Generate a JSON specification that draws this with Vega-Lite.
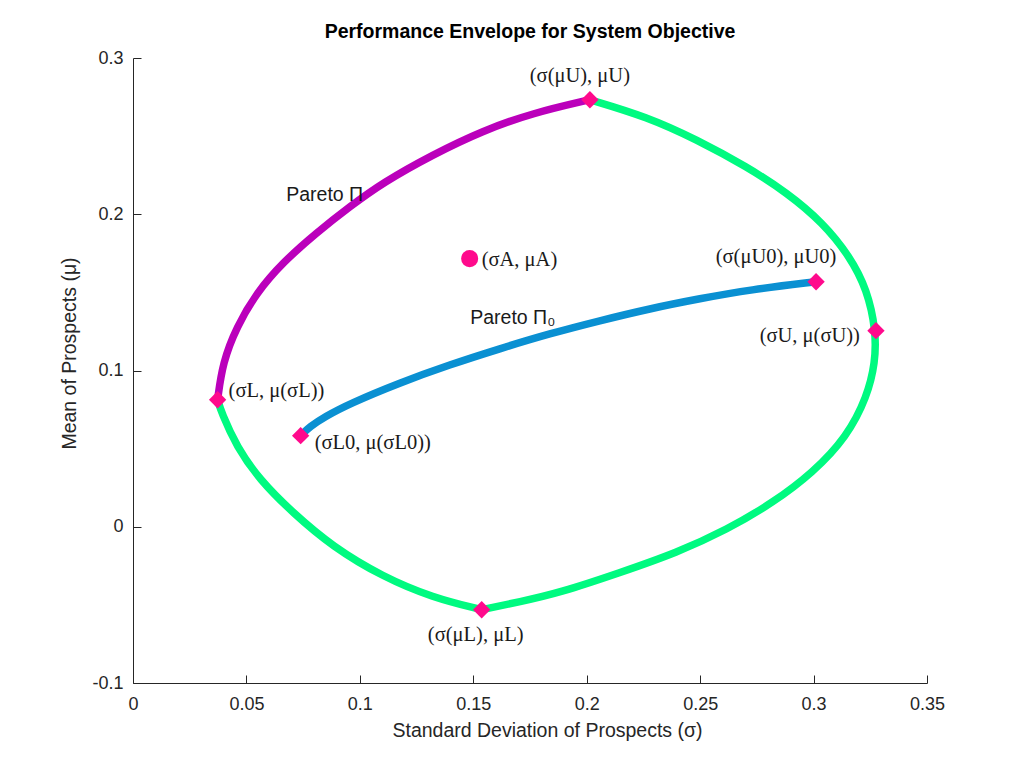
{
  "$schema": "https://vega.github.io/schema/vega-lite/v6.json",
  "autosize": "none",
  "width": 794,
  "height": 625,
  "padding": {"left": 133, "top": 58, "right": 97, "bottom": 83},
  "background": "white",
  "title": {"text": "Performance Envelope for System Objective", "font": "Liberation Sans", "fontSize": 19.5, "fontWeight": "bold", "color": "#000000", "offset": 7},
  "config": {
    "view": {"stroke": null},
    "axis": {"grid": false, "labelFlush": false, "domainColor": "#262626", "tickColor": "#262626", "labelColor": "#262626", "titleColor": "#262626", "labelFont": "Liberation Sans", "titleFont": "Liberation Sans", "labelFontSize": 18, "titleFontSize": 19.5, "titleFontWeight": "normal", "tickSize": -8, "domainWidth": 1, "tickWidth": 1}
  },
  "datasets": {
    "curves": [
      {"curve": "pi", "i": 0, "sigma": 0.0373, "mu": 0.0813},
      {"curve": "pi", "i": 1, "sigma": 0.0395, "mu": 0.105},
      {"curve": "pi", "i": 2, "sigma": 0.0457, "mu": 0.128},
      {"curve": "pi", "i": 3, "sigma": 0.0545, "mu": 0.1498},
      {"curve": "pi", "i": 4, "sigma": 0.0659, "mu": 0.169},
      {"curve": "pi", "i": 5, "sigma": 0.0809, "mu": 0.1882},
      {"curve": "pi", "i": 6, "sigma": 0.0955, "mu": 0.2048},
      {"curve": "pi", "i": 7, "sigma": 0.1101, "mu": 0.2202},
      {"curve": "pi", "i": 8, "sigma": 0.1321, "mu": 0.2381},
      {"curve": "pi", "i": 9, "sigma": 0.1542, "mu": 0.2535},
      {"curve": "pi", "i": 10, "sigma": 0.1762, "mu": 0.2648},
      {"curve": "pi", "i": 11, "sigma": 0.2014, "mu": 0.2733},
      {"curve": "env1", "i": 0, "sigma": 0.2014, "mu": 0.2733},
      {"curve": "env1", "i": 1, "sigma": 0.2265, "mu": 0.2624},
      {"curve": "env1", "i": 2, "sigma": 0.2486, "mu": 0.2477},
      {"curve": "env1", "i": 3, "sigma": 0.2706, "mu": 0.2304},
      {"curve": "env1", "i": 4, "sigma": 0.2883, "mu": 0.2138},
      {"curve": "env1", "i": 5, "sigma": 0.3041, "mu": 0.1946},
      {"curve": "env1", "i": 6, "sigma": 0.3161, "mu": 0.1728},
      {"curve": "env1", "i": 7, "sigma": 0.3236, "mu": 0.1517},
      {"curve": "env1", "i": 8, "sigma": 0.3275, "mu": 0.1255},
      {"curve": "env1", "i": 9, "sigma": 0.3272, "mu": 0.105},
      {"curve": "env1", "i": 10, "sigma": 0.3236, "mu": 0.0832},
      {"curve": "env1", "i": 11, "sigma": 0.3147, "mu": 0.0576},
      {"curve": "env1", "i": 12, "sigma": 0.2997, "mu": 0.0346},
      {"curve": "env1", "i": 13, "sigma": 0.2821, "mu": 0.0154},
      {"curve": "env1", "i": 14, "sigma": 0.2618, "mu": -0.0019},
      {"curve": "env1", "i": 15, "sigma": 0.2397, "mu": -0.0166},
      {"curve": "env1", "i": 16, "sigma": 0.2146, "mu": -0.0294},
      {"curve": "env1", "i": 17, "sigma": 0.1881, "mu": -0.0422},
      {"curve": "env1", "i": 18, "sigma": 0.1705, "mu": -0.048},
      {"curve": "env1", "i": 19, "sigma": 0.1537, "mu": -0.0531},
      {"curve": "env2", "i": 0, "sigma": 0.1537, "mu": -0.0531},
      {"curve": "env2", "i": 1, "sigma": 0.1321, "mu": -0.0454},
      {"curve": "env2", "i": 2, "sigma": 0.1101, "mu": -0.032},
      {"curve": "env2", "i": 3, "sigma": 0.088, "mu": -0.0128},
      {"curve": "env2", "i": 4, "sigma": 0.0704, "mu": 0.009},
      {"curve": "env2", "i": 5, "sigma": 0.0558, "mu": 0.0301},
      {"curve": "env2", "i": 6, "sigma": 0.0457, "mu": 0.0512},
      {"curve": "env2", "i": 7, "sigma": 0.039, "mu": 0.073},
      {"curve": "env2", "i": 8, "sigma": 0.0373, "mu": 0.0813},
      {"curve": "pi0", "i": 0, "sigma": 0.0739, "mu": 0.0583},
      {"curve": "pi0", "i": 1, "sigma": 0.0779, "mu": 0.064},
      {"curve": "pi0", "i": 2, "sigma": 0.0845, "mu": 0.0704},
      {"curve": "pi0", "i": 3, "sigma": 0.0955, "mu": 0.0788},
      {"curve": "pi0", "i": 4, "sigma": 0.1176, "mu": 0.0922},
      {"curve": "pi0", "i": 5, "sigma": 0.1396, "mu": 0.1037},
      {"curve": "pi0", "i": 6, "sigma": 0.1617, "mu": 0.114},
      {"curve": "pi0", "i": 7, "sigma": 0.1837, "mu": 0.1236},
      {"curve": "pi0", "i": 8, "sigma": 0.2058, "mu": 0.1319},
      {"curve": "pi0", "i": 9, "sigma": 0.2278, "mu": 0.1396},
      {"curve": "pi0", "i": 10, "sigma": 0.2499, "mu": 0.146},
      {"curve": "pi0", "i": 11, "sigma": 0.2719, "mu": 0.1517},
      {"curve": "pi0", "i": 12, "sigma": 0.3011, "mu": 0.1568}
    ],
    "points": [
      {"id": "muU", "kind": "diamond", "sigma": 0.2014, "mu": 0.2733, "label": "(σ(μU), μU)"},
      {"id": "sigU", "kind": "diamond", "sigma": 0.3275, "mu": 0.1255, "label": "(σU, μ(σU))"},
      {"id": "muL", "kind": "diamond", "sigma": 0.1537, "mu": -0.0531, "label": "(σ(μL), μL)"},
      {"id": "sigL", "kind": "diamond", "sigma": 0.0373, "mu": 0.0813, "label": "(σL, μ(σL))"},
      {"id": "sigL0", "kind": "diamond", "sigma": 0.0739, "mu": 0.0583, "label": "(σL0, μ(σL0))"},
      {"id": "muU0", "kind": "diamond", "sigma": 0.3011, "mu": 0.1568, "label": "(σ(μU0), μU0)"},
      {"id": "A", "kind": "circle", "sigma": 0.1484, "mu": 0.1716, "label": "(σA, μA)"}
    ],
    "paretoLabels": [
      {"sigma": 0.0845, "mu": 0.2125, "label": "Pareto Π"},
      {"sigma": 0.1674, "mu": 0.1338, "label": "Pareto Π₀"}
    ]
  },
  "encoding": {
    "x": {"field": "sigma", "type": "quantitative", "scale": {"domain": [0, 0.35], "nice": false, "zero": false},
      "axis": {"title": "Standard Deviation of Prospects (σ)", "values": [0, 0.05, 0.1, 0.15, 0.2, 0.25, 0.3, 0.35], "labelExpr": "toString(datum.value)", "labelPadding": 20, "titlePadding": 8, "titleX": 414}},
    "y": {"field": "mu", "type": "quantitative", "scale": {"domain": [-0.1, 0.3], "nice": false, "zero": false},
      "axis": {"title": "Mean of Prospects (μ)", "values": [-0.1, 0, 0.1, 0.2, 0.3], "labelExpr": "toString(datum.value)", "labelPadding": 18, "titlePadding": 12, "titleY": 295}}
  },
  "layer": [
    {
      "data": {"name": "curves"},
      "mark": {"type": "line", "strokeWidth": 7.5, "interpolate": "basis", "strokeCap": "butt"},
      "encoding": {
        "color": {"field": "curve", "type": "nominal", "legend": null,
          "scale": {"domain": ["env1", "env2", "pi", "pi0"], "range": ["#00fa80", "#00fa80", "#bb00bb", "#0a90d2"]}},
        "order": {"field": "i", "type": "quantitative"}
      }
    },
    {
      "data": {"name": "points"},
      "transform": [{"filter": "datum.kind == 'diamond'"}],
      "mark": {"type": "point", "shape": "diamond", "filled": true, "size": 300, "color": "#ff0a8c", "opacity": 1}
    },
    {
      "data": {"name": "points"},
      "transform": [{"filter": "datum.kind == 'circle'"}],
      "mark": {"type": "point", "shape": "circle", "filled": true, "size": 290, "color": "#ff0a8c", "opacity": 1}
    },
    {
      "data": {"name": "points"},
      "transform": [{"filter": "datum.id == 'muU'"}],
      "mark": {"type": "text", "font": "Liberation Serif", "fontSize": 20.5, "color": "#1a1a1a", "align": "center", "baseline": "middle", "dx": -10, "dy": -24},
      "encoding": {"text": {"field": "label"}}
    },
    {
      "data": {"name": "points"},
      "transform": [{"filter": "datum.id == 'sigL'"}],
      "mark": {"type": "text", "font": "Liberation Serif", "fontSize": 20.5, "color": "#1a1a1a", "align": "left", "baseline": "middle", "dx": 11, "dy": -9},
      "encoding": {"text": {"field": "label"}}
    },
    {
      "data": {"name": "points"},
      "transform": [{"filter": "datum.id == 'sigL0'"}],
      "mark": {"type": "text", "font": "Liberation Serif", "fontSize": 20.5, "color": "#1a1a1a", "align": "left", "baseline": "middle", "dx": 14, "dy": 7},
      "encoding": {"text": {"field": "label"}}
    },
    {
      "data": {"name": "points"},
      "transform": [{"filter": "datum.id == 'muU0'"}],
      "mark": {"type": "text", "font": "Liberation Serif", "fontSize": 20.5, "color": "#1a1a1a", "align": "center", "baseline": "middle", "dx": -40, "dy": -25},
      "encoding": {"text": {"field": "label"}}
    },
    {
      "data": {"name": "points"},
      "transform": [{"filter": "datum.id == 'sigU'"}],
      "mark": {"type": "text", "font": "Liberation Serif", "fontSize": 20.5, "color": "#1a1a1a", "align": "right", "baseline": "middle", "dx": -16, "dy": 5},
      "encoding": {"text": {"field": "label"}}
    },
    {
      "data": {"name": "points"},
      "transform": [{"filter": "datum.id == 'muL'"}],
      "mark": {"type": "text", "font": "Liberation Serif", "fontSize": 20.5, "color": "#1a1a1a", "align": "center", "baseline": "middle", "dx": -6, "dy": 25},
      "encoding": {"text": {"field": "label"}}
    },
    {
      "data": {"name": "points"},
      "transform": [{"filter": "datum.id == 'A'"}],
      "mark": {"type": "text", "font": "Liberation Serif", "fontSize": 20.5, "color": "#1a1a1a", "align": "left", "baseline": "middle", "dx": 12, "dy": 1},
      "encoding": {"text": {"field": "label"}}
    },
    {
      "data": {"name": "paretoLabels"},
      "mark": {"type": "text", "font": "Liberation Sans", "fontSize": 19.5, "color": "#1a1a1a", "align": "center", "baseline": "middle"},
      "encoding": {"text": {"field": "label"}}
    }
  ]
}
